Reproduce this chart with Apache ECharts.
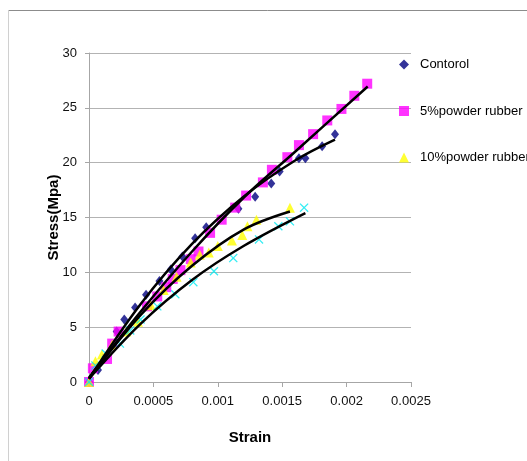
<!DOCTYPE html>
<html>
<head>
<meta charset="utf-8">
<script src="https://cdn.jsdelivr.net/npm/echarts@6/dist/echarts.min.js"></script>
<style>
html,body{margin:0;padding:0;background:#fff;}
#c{width:527px;height:461px;}
</style>
</head>
<body>
<div id="c"></div>
<script>
// ---- Data (strain, stress MPa) ----
const xTicks = [0, 0.0005, 0.001, 0.0015, 0.002, 0.0025];
const yTicks = [0, 5, 10, 15, 20, 25, 30];
const seriesNames = ['Contorol', '5%powder rubber', '10%powder rubber', '15%powder rubber'];

const control = [
  [0,0],[0.00007,1.1],[0.000215,4.6],[0.000274,5.7],[0.000358,6.8],[0.000443,7.95],
  [0.000547,9.2],[0.000635,10.25],[0.000725,11.45],[0.000824,13.1],[0.00091,14.1],
  [0.00116,15.8],[0.00129,16.9],[0.001415,18.1],[0.00148,19.2],[0.00163,20.4],
  [0.00168,20.4],[0.00181,21.5],[0.00191,22.6]
];
const rubber5 = [
  [0,0],[0.00003,1.25],[0.00014,2.1],[0.00018,3.5],[0.00023,4.6],[0.00045,6.9],
  [0.00053,7.8],[0.0006,8.65],[0.00065,9.4],[0.00071,10.2],[0.00079,11.2],[0.00085,11.9],
  [0.00094,13.6],[0.00103,14.8],[0.001135,15.9],[0.00122,17.0],[0.00135,18.2],
  [0.00142,19.35],[0.00154,20.5],[0.00163,21.6],[0.00174,22.6],[0.00185,23.85],
  [0.00196,24.9],[0.00206,26.1],[0.00216,27.2]
];
const rubber10 = [
  [0,0],[0.00005,1.9],[0.0001,2.5],[0.00018,3.4],[0.00029,4.6],[0.00038,5.5],
  [0.00048,7.0],[0.00058,8.4],[0.00068,9.6],[0.00079,10.9],[0.00086,11.6],[0.00093,11.8],
  [0.001,12.4],[0.00111,12.9],[0.00119,13.4],[0.00123,14.2],[0.0013,14.8],[0.00156,15.9]
];
const rubber15 = [
  [0,0],[0.00005,1.5],[0.00013,2.6],[0.00024,3.5],[0.00032,4.7],[0.0004,5.7],
  [0.00053,6.9],[0.00067,8.0],[0.00081,9.1],[0.00097,10.1],[0.00112,11.3],
  [0.00132,13.0],[0.00147,14.2],[0.00156,14.65],[0.00167,15.9]
];
// Trendlines
const trendControl = [[0,0.3],[0.0004,7.1],[0.0008,12.6],[0.0012,16.9],[0.0016,20.2],[0.00191,22.1]];
const trend5 = [[0,0.4],[0.0004,6.4],[0.0008,11.9],[0.0012,16.8],[0.0016,21.0],[0.002164,26.95]];
const trend10 = [[0,0.3],[0.0004,6.1],[0.0008,10.6],[0.0012,13.9],[0.00156,15.55]];
const trend15 = [[0,0.3],[0.0004,5.3],[0.0008,9.3],[0.0012,12.4],[0.00168,15.4]];

const XPATH = 'path://M0,1L1,0L5,4L9,0L10,1L6,5L10,9L9,10L5,6L1,10L0,9L4,5Z';
const FONT = 'Liberation Sans, Arial, sans-serif';

const chart = echarts.init(document.getElementById('c'));
function trend(data){
  return {type:'line', data, smooth:0.35, showSymbol:false, symbol:'none', silent:true,
    lineStyle:{color:'#000', width:2.5}, z:5, animation:false};
}
chart.setOption({
  animation:false,
  backgroundColor:'#fff',
  textStyle:{fontFamily:FONT},
  graphic:[
    {type:'line', shape:{x1:8.5,y1:10.5,x2:527,y2:10.5}, style:{stroke:'#8c8c8c', lineWidth:1}},
    {type:'line', shape:{x1:8.5,y1:10.5,x2:8.5,y2:461}, style:{stroke:'#d0d0d0', lineWidth:1}}
  ],
  grid:{left:89, right:116, top:53, bottom:79},
  legend:{
    data: seriesNames.slice(0,3),
    orient:'vertical', left:394, top:53,
    itemWidth:10, itemHeight:10, itemGap:33.5,
    textStyle:{fontFamily:FONT, fontSize:13, color:'#000', padding:[0,0,0,6]},
    selectedMode:false
  },
  xAxis:{
    type:'value', min:xTicks[0], max:xTicks[xTicks.length-1], interval:0.0005,
    name:'Strain', nameLocation:'middle', nameGap:48,
    nameTextStyle:{fontFamily:FONT, fontSize:15, fontWeight:'bold', color:'#000'},
    axisLine:{show:true, onZero:false, lineStyle:{color:'#a6a6a6', width:1}},
    axisTick:{show:true, length:5, lineStyle:{color:'#a6a6a6'}},
    splitLine:{show:false},
    axisLabel:{margin:13, fontSize:13, color:'#111', fontFamily:FONT,
      formatter:v=>String(+v.toFixed(4))}
  },
  yAxis:{
    type:'value', min:yTicks[0], max:yTicks[yTicks.length-1], interval:5,
    name:'Stress(Mpa)', nameLocation:'middle', nameGap:28, nameMoveOverlap:false,
    nameTextStyle:{fontFamily:FONT, fontSize:15, fontWeight:'bold', color:'#000'},
    axisLine:{show:true, lineStyle:{color:'#a6a6a6', width:1}},
    axisTick:{show:true, length:4, lineStyle:{color:'#a6a6a6'}},
    splitLine:{show:true, lineStyle:{color:'#b3b3b3', width:1}},
    axisLabel:{margin:12, fontSize:13, color:'#111', fontFamily:FONT}
  },
  series:[
    {name:seriesNames[0], type:'scatter', data:control, symbol:'diamond', symbolSize:[8,10],
      itemStyle:{color:'#000080'}, z:3},
    {name:seriesNames[1], type:'scatter', data:rubber5, symbol:'rect', symbolSize:10,
      itemStyle:{color:'#ff00ff'}, z:3},
    {name:seriesNames[2], type:'scatter', data:rubber10, symbol:'triangle', symbolSize:10,
      itemStyle:{color:'#ffff00'}, z:3},
    {name:seriesNames[3], type:'scatter', data:rubber15, symbol:XPATH, symbolSize:9,
      itemStyle:{color:'#00e8f0'}, z:3},
    trend(trendControl), trend(trend5), trend(trend10), trend(trend15)
  ]
});
</script>
</body>
</html>
